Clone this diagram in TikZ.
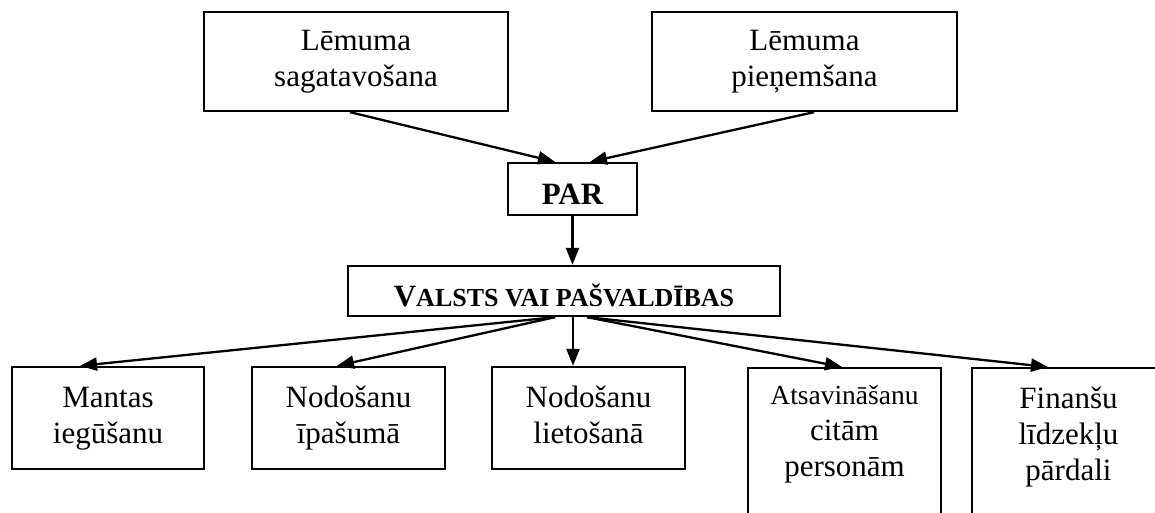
\documentclass[tikz,border=0pt]{standalone}
\usepackage{fontspec}
\setmainfont{Liberation Serif}
\usetikzlibrary{arrows.meta,calc}
\tikzset{
  box/.style={draw, line width=2.3pt, inner sep=0pt, align=center, font=\fontsize{31}{36}\selectfont},
  bbox/.style={draw, line width=2.3pt, inner sep=0pt, font=\fontsize{31}{36}\selectfont\bfseries, text height=30pt, text depth=0pt},
  conn/.style={line width=2.3pt, -{Triangle[length=17pt,width=13pt]}},
  txt/.style={inner sep=0pt, align=center, font=\fontsize{31}{36}\selectfont},
}
\begin{document}
\begin{tikzpicture}[x=1pt,y=-1pt]
\useasboundingbox (0,0) rectangle (1155,513);
\fill[white] (0,0) rectangle (1155,513);
\clip (0,0) rectangle (1155,513);

% top boxes
\node[box, minimum width=304pt, minimum height=99pt] (lsag) at (356,61.5) {\strut Lēmuma\\sagatavošana\strut};
\node[box, minimum width=305pt, minimum height=99pt] (lpien) at (804.5,61.5) {\strut Lēmuma\\pieņemšana\strut};

% PAR
\node[bbox, minimum width=129pt, minimum height=52pt] (par) at (572.5,189) {PAR};

% VALSTS VAI PAŠVALDĪBAS
\node[bbox, minimum width=432pt, minimum height=50pt] (valsts) at (564,291)
  {V{\fontsize{26}{30}\selectfont ALSTS VAI PAŠVALDĪBAS}};

% bottom boxes
\node[box, minimum width=192pt, minimum height=102pt] (mantas) at (108,418) {\strut Mantas\\iegūšanu\strut};
\node[box, minimum width=193pt, minimum height=102pt] (nip) at (348.5,418) {\strut Nodošanu\\īpašumā\strut};
\node[box, minimum width=193pt, minimum height=102pt] (nlie) at (588.5,418) {\strut Nodošanu\\lietošanā\strut};
\node[box, minimum width=193pt, minimum height=220pt, anchor=north] (ats) at (844.5,367) {};
\node[box, minimum width=193pt, minimum height=220pt, anchor=north] (fin) at (1068.5,367) {};
\node[txt, anchor=north] (atst) at ([yshift=-12pt]ats.north)
  {\strut{\fontsize{27.5}{36}\selectfont Atsavināšanu}\\citām\\personām\strut};
\node[txt, anchor=north] (fint) at ([yshift=-16pt]fin.north)
  {\strut Finanšu\\līdzekļu\\pārdali\strut};

% connectors
\draw[conn] ($(lsag.south)+(-6,0)$) -- ($(par.north)+(-17.5,0)$);
\draw[conn] ($(lpien.south)+(9.5,0)$) -- ($(par.north)+(17.5,0)$);
\draw[conn] (par.south) -- (par.south |- valsts.north);
\draw[conn] ($(valsts.south)+(-9,0)$) -- ($(mantas.north)+(-28,0)$);
\draw[conn] ($(valsts.south)+(-9,0)$) -- ($(nip.north)+(-11.5,0)$);
\draw[conn] ($(valsts.south)+(9,0)$) -- ($(nlie.north)+(-15.5,0)$);
\draw[conn] ($(valsts.south)+(23,0)$) -- ($(ats.north)+(-2.5,0)$);
\draw[conn] ($(valsts.south)+(23,0)$) -- ($(fin.north)+(-20.5,0)$);
\end{tikzpicture}
\end{document}
